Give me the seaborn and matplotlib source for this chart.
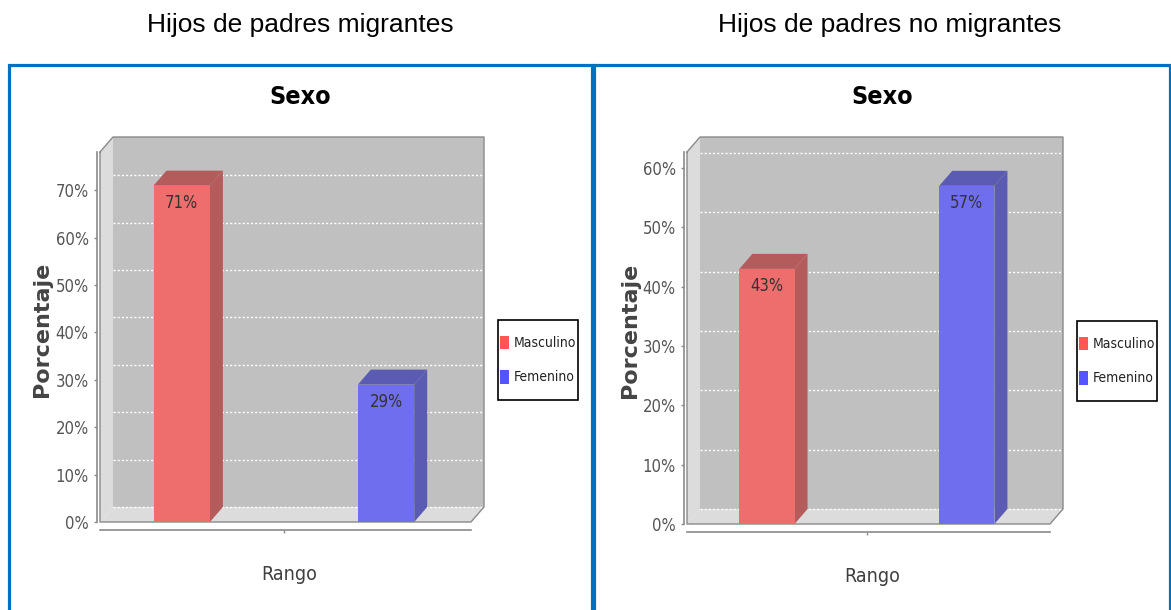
"""
Sexo de los hijos: padres migrantes vs. no migrantes.

Two JFreeChart-like 3D bar panels, each framed in a blue box.
"""

import matplotlib
matplotlib.use("Agg")
import matplotlib.pyplot as plt
import pandas as pd
import seaborn as sns
from matplotlib import font_manager
from matplotlib.patches import Patch, Polygon, Rectangle


# Data
sexo = ["Masculino", "Femenino"]
pct_migrantes = [71, 29]
pct_no_migrantes = [43, 57]
yticks_migrantes = [0, 10, 20, 30, 40, 50, 60, 70]
yticks_no_migrantes = [0, 10, 20, 30, 40, 50, 60]
panel_titles = ["Hijos de padres migrantes", "Hijos de padres no migrantes"]
chart_title = "Sexo"
x_label = "Rango"
y_label = "Porcentaje"

# Style
sns.set_theme(style="white")
plt.rcParams["font.family"] = ["Liberation Sans", "DejaVu Sans"]

_names = {f.name for f in font_manager.fontManager.ttflist}
if "Liberation Sans Narrow" in _names:
    NARROW = {"family": "Liberation Sans Narrow"}
else:
    NARROW = {"family": "DejaVu Sans", "stretch": "condensed"}

FRONT = {"Masculino": "#ee6e6e", "Femenino": "#6e6eee"}
SIDE = {"Masculino": "#b45b5b", "Femenino": "#5b5bb4"}
LEGEND = {"Masculino": "#ff5555", "Femenino": "#5555ff"}
WALL = "#c0c0c0"
FLOOR = "#dcdcdc"
EDGE = "#8a8a8a"
FRAME = "#0070c0"
DX, DY = 13, 15  # depth of the 3D effect, in pixels

FIG_W, FIG_H = 1171, 610


def fx(x):
    return x / FIG_W


def fy(y):
    return 1 - y / FIG_H


def shifted(ax, x, y, dx=DX, dy=DY):
    """Data point pushed back by the 3D depth offset."""
    px, py = ax.transData.transform((x, y))
    return tuple(ax.transData.inverted().transform((px + dx, py + dy)))


def draw_panel(fig, values, yticks, axes_px, legend_box, title_x):
    left, top, right, bottom = axes_px
    ax = fig.add_axes([fx(left), fy(bottom), fx(right - left), (bottom - top) / FIG_H])
    ax.patch.set_alpha(0)

    df = pd.DataFrame({"sexo": sexo, "pct": values})
    sns.barplot(
        data=df, x="sexo", y="pct", hue="sexo", palette=FRONT,
        width=0.276, saturation=1, linewidth=0, legend=False, ax=ax, zorder=3,
    )
    ax.set_xlim(-0.40, 1.416)
    ax.set_ylim(0, max(values) * 1.1)
    x0, x1 = ax.get_xlim()
    y0, y1 = ax.get_ylim()

    # back wall, side wall and floor
    ax.add_patch(Polygon(
        [shifted(ax, x0, y0), shifted(ax, x1, y0), shifted(ax, x1, y1), shifted(ax, x0, y1)],
        closed=True, fc=WALL, ec="none", zorder=0.2, clip_on=False))
    ax.add_patch(Polygon(
        [(x0, y0), (x0, y1), shifted(ax, x0, y1), shifted(ax, x0, y0)],
        closed=True, fc=FLOOR, ec="none", zorder=0.3, clip_on=False))
    ax.add_patch(Polygon(
        [(x0, y0), (x1, y0), shifted(ax, x1, y0), shifted(ax, x0, y0)],
        closed=True, fc=FLOOR, ec="none", zorder=0.3, clip_on=False))

    # dotted grid on the back wall
    for t in yticks:
        (ax_, ay_), (bx_, by_) = shifted(ax, x0, t), shifted(ax, x1, t)
        ax.plot([ax_, bx_], [ay_, by_], color="white", lw=1, ls=(0, (1.5, 1.5)),
                zorder=0.4, clip_on=False)

    # box outline
    outline = [(x0, y1), shifted(ax, x0, y1), shifted(ax, x1, y1),
               shifted(ax, x1, y0), (x1, y0), (x0, y0), (x0, y1)]
    ax.plot([p[0] for p in outline], [p[1] for p in outline], color=EDGE, lw=1,
            zorder=0.5, clip_on=False)

    # 3D faces of the bars + value labels
    for i, bar in enumerate(ax.patches[:len(sexo)]):
        bx, w, h = bar.get_x(), bar.get_width(), bar.get_height()
        side = SIDE[sexo[i]]
        ax.add_patch(Polygon(
            [(bx, h), (bx + w, h), shifted(ax, bx + w, h), shifted(ax, bx, h)],
            closed=True, fc=side, ec="none", zorder=2.5, clip_on=False))
        ax.add_patch(Polygon(
            [(bx + w, 0), (bx + w, h), shifted(ax, bx + w, h), shifted(ax, bx + w, 0)],
            closed=True, fc=side, ec="none", zorder=2.5, clip_on=False))
        ax.annotate(f"{h:.0f}%", (bx + w / 2, h), xytext=(0, -6),
                    textcoords="offset points", ha="center", va="top",
                    fontsize=12, color="#333333", zorder=4, **NARROW)

    # axes
    for s in ["top", "right"]:
        ax.spines[s].set_visible(False)
    ax.spines["left"].set_position(("outward", 2.5))
    ax.spines["bottom"].set_position(("outward", 6))
    for s in ["left", "bottom"]:
        ax.spines[s].set_color(EDGE)
        ax.spines[s].set_linewidth(1.2)

    ax.set_xticks([0.5])
    ax.set_xticklabels([""])
    ax.set_yticks(yticks)
    ax.set_yticklabels([f"{t}%" for t in yticks])
    ax.tick_params(axis="both", direction="out", length=2.5, width=1, color=EDGE,
                   left=True, bottom=True, pad=3, labelsize=12, labelcolor="#555555")
    for lbl in ax.get_yticklabels():
        lbl.set(**NARROW)

    ax.set_xlabel(x_label, fontsize=14, color="#404040", **NARROW)
    ax.xaxis.set_label_coords(0.51, -0.115)
    ax.set_ylabel(y_label, fontsize=16, fontweight="bold", color="#444444",
                  family="DejaVu Sans")
    ax.yaxis.set_label_coords(-0.13, 0.52)

    fig.text(fx(title_x), fy(104), chart_title, fontsize=18, fontweight="bold",
             color="black", ha="center", va="baseline", **NARROW)

    # legend: content centred in a hand-drawn black box
    bx0, by0, bx1, by1 = legend_box
    fig.add_artist(Rectangle((fx(bx0), fy(by1)), fx(bx1 - bx0), (by1 - by0) / FIG_H,
                             transform=fig.transFigure, fill=True, fc="white",
                             ec="black", lw=1.2, zorder=5))
    handles = [Patch(fc=LEGEND[s], ec="none", label=s) for s in sexo]
    leg = fig.legend(
        handles=handles, loc="center",
        bbox_to_anchor=(fx((bx0 + bx1) / 2), fy((by0 + by1) / 2)),
        bbox_transform=fig.transFigure, frameon=False,
        borderpad=0, handlelength=0.65, handleheight=1.15, handletextpad=0.3,
        labelspacing=1.4, borderaxespad=0, prop={"size": 10, **NARROW},
    )
    leg.set_zorder(6)
    for txt in leg.get_texts():
        txt.set_color("#222222")
    return ax


fig = plt.figure(figsize=(FIG_W / 100, FIG_H / 100), dpi=100)
fig.patch.set_facecolor("white")

# blue frames
fig.add_artist(Rectangle((fx(8.5), -0.05), fx(591.5 - 8.5), fy(65) + 0.05,
                         transform=fig.transFigure, fill=False, ec=FRAME, lw=2.3))
fig.add_artist(Rectangle((fx(593.5), -0.05), fx(1169.5 - 593.5), fy(65) + 0.05,
                         transform=fig.transFigure, fill=False, ec=FRAME, lw=2.3))

fig.text(fx(300.5), fy(32), panel_titles[0], fontsize=19, color="black",
         ha="center", va="baseline")
fig.text(fx(890), fy(32), panel_titles[1], fontsize=19, color="black",
         ha="center", va="baseline")

draw_panel(fig, pct_migrantes, yticks_migrantes, (100, 152, 471, 522),
           (498, 320, 578, 400), 300.5)
draw_panel(fig, pct_no_migrantes, yticks_no_migrantes, (687, 152, 1050, 524),
           (1077, 321, 1157, 401), 882)

fig.savefig("out.png", dpi=100)
plt.close(fig)
